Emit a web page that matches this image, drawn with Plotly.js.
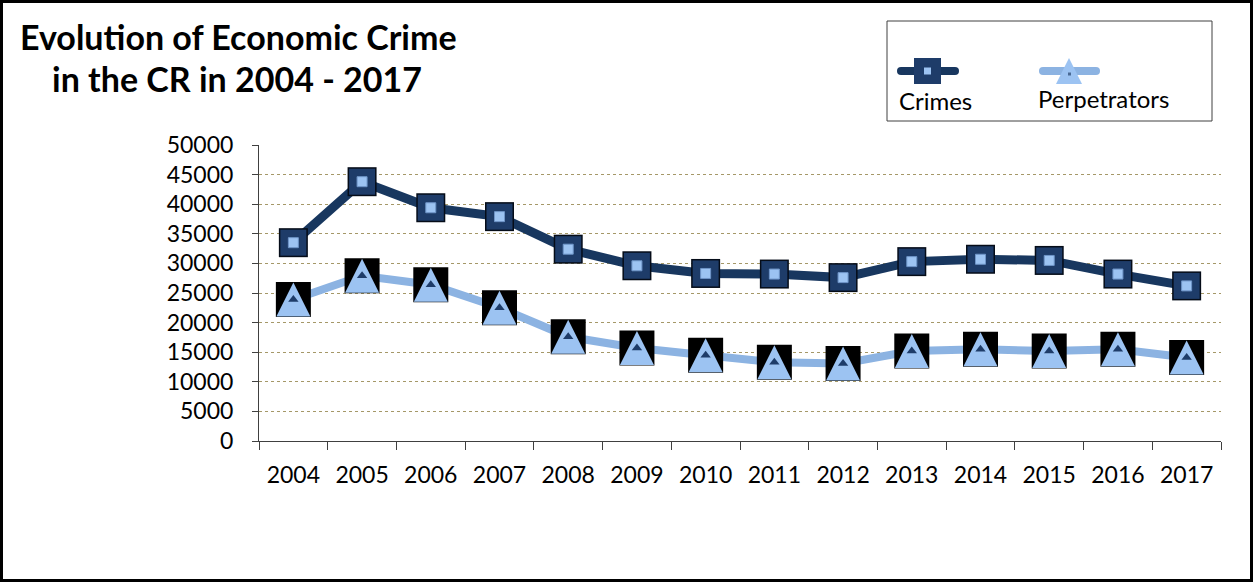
<!DOCTYPE html>
<html>
<head>
<meta charset="utf-8">
<script src="https://cdn.plot.ly/plotly-3.0.1.min.js"></script>
<style>
html, body { margin: 0; padding: 0; background: #ffffff; }
#chart { width: 1253px; height: 583px; }
</style>
</head>
<body>
<div id="chart"></div>
<script>
// ---- data ----
const years = ['2004','2005','2006','2007','2008','2009','2010','2011','2012','2013','2014','2015','2016','2017'];
const crimes = [33500, 43800, 39400, 37900, 32400, 29600, 28300, 28200, 27600, 30300, 30700, 30500, 28200, 26200];
const perpetrators = [23900, 27900, 26400, 22500, 17600, 15700, 14500, 13300, 13100, 15200, 15500, 15200, 15500, 14100];
const yTicks = [0, 5000, 10000, 15000, 20000, 25000, 30000, 35000, 40000, 45000, 50000];
const gridTicks = [5000, 10000, 15000, 20000, 25000, 30000, 35000, 40000, 45000];
const seriesNames = ['Crimes', 'Perpetrators'];
const titleLines = ['Evolution of Economic Crime', 'in the CR in 2004 - 2017'];

// ---- geometry / style ----
const W = 1253, H = 583;
const M = {l: 259, r: 32, t: 145, b: 142};
const PW = W - M.l - M.r, PH = H - M.t - M.b;
const px = x => (x - M.l) / PW;
const py = y => (H - M.b - y) / PH;

const NAVY = '#1e3c69', NAVY_LINE = '#18375f', LIGHT = '#9cc3f2', LIGHT_LINE = '#8cb3e2';
const FONT = 'Lato, "Open Sans", sans-serif';

const common = {x: years, type: 'scatter', hoverinfo: 'skip', showlegend: false, cliponaxis: false};

const traces = [
  // invisible trace so that the grid axis is drawn
  {x: [years[0]], y: [gridTicks[0]], yaxis: 'y2', type: 'scatter', mode: 'markers', marker: {opacity: 0}, hoverinfo: 'skip', showlegend: false},
  // perpetrators
  Object.assign({}, common, {y: perpetrators, mode: 'lines', line: {color: LIGHT_LINE, width: 8}}),
  Object.assign({}, common, {y: perpetrators, mode: 'markers', marker: {symbol: 'square', size: 35, color: '#000000'}}),
  Object.assign({}, common, {y: perpetrators, mode: 'markers', marker: {symbol: 'arrow-down', angle: 180, standoff: 17, size: 34, color: LIGHT, line: {width: 0}}}),
  Object.assign({}, common, {y: perpetrators, mode: 'markers', marker: {symbol: 'triangle-up', size: 9, color: NAVY, line: {width: 0}}}),
  // crimes
  Object.assign({}, common, {y: crimes, mode: 'lines', line: {color: NAVY_LINE, width: 9}}),
  Object.assign({}, common, {y: crimes, mode: 'markers', marker: {symbol: 'square', size: 29, color: '#050c18'}}),
  Object.assign({}, common, {y: crimes, mode: 'markers', marker: {symbol: 'square', size: 26, color: NAVY, line: {width: 0}}}),
  Object.assign({}, common, {y: crimes, mode: 'markers', marker: {symbol: 'square', size: 10, color: LIGHT, line: {color: '#6f95c8', width: 1}}})
];

const shapes = [
  // outer frame
  {type: 'rect', xref: 'paper', yref: 'paper', x0: px(1.5), x1: px(1251.5), y0: py(1.5), y1: py(580.5), line: {color: '#000', width: 3}},
  // legend box
  {type: 'rect', xref: 'paper', yref: 'paper', x0: px(887), x1: px(1212), y0: py(21), y1: py(121), line: {color: '#404040', width: 1}, fillcolor: 'rgba(0,0,0,0)'},
  // crimes legend symbol
  {type: 'line', xref: 'paper', yref: 'paper', x0: px(901), x1: px(955), y0: py(71), y1: py(71), line: {color: NAVY_LINE, width: 8}},
  {type: 'circle', xref: 'paper', yref: 'paper', x0: px(897), x1: px(905), y0: py(67), y1: py(75), fillcolor: NAVY_LINE, line: {width: 0}},
  {type: 'circle', xref: 'paper', yref: 'paper', x0: px(951), x1: px(959), y0: py(67), y1: py(75), fillcolor: NAVY_LINE, line: {width: 0}},
  {type: 'rect', xref: 'paper', yref: 'paper', x0: px(914), x1: px(941), y0: py(58), y1: py(84), fillcolor: NAVY, line: {width: 0}},
  {type: 'rect', xref: 'paper', yref: 'paper', x0: px(924), x1: px(931), y0: py(67.5), y1: py(74.5), fillcolor: LIGHT, line: {width: 0}},
  // perpetrators legend symbol
  {type: 'line', xref: 'paper', yref: 'paper', x0: px(1043), x1: px(1096), y0: py(71), y1: py(71), line: {color: LIGHT_LINE, width: 8}},
  {type: 'circle', xref: 'paper', yref: 'paper', x0: px(1039), x1: px(1047), y0: py(67), y1: py(75), fillcolor: LIGHT_LINE, line: {width: 0}},
  {type: 'circle', xref: 'paper', yref: 'paper', x0: px(1092), x1: px(1100), y0: py(67), y1: py(75), fillcolor: LIGHT_LINE, line: {width: 0}},
  {type: 'path', xref: 'paper', yref: 'paper',
   path: 'M ' + px(1069) + ' ' + py(58) + ' L ' + px(1082) + ' ' + py(84) + ' L ' + px(1056) + ' ' + py(84) + ' Z',
   fillcolor: LIGHT, line: {width: 0}},
  {type: 'rect', xref: 'paper', yref: 'paper', x0: px(1068), x1: px(1071), y0: py(72.5), y1: py(75.5), fillcolor: '#4a6a95', line: {width: 0}}
];

const annotations = [
  {text: titleLines[0], xref: 'paper', yref: 'paper', x: px(238), y: py(36), xanchor: 'center', yanchor: 'middle', showarrow: false,
   font: {family: FONT, size: 34, color: '#000', weight: 'bold'}},
  {text: titleLines[1], xref: 'paper', yref: 'paper', x: px(237), y: py(78), xanchor: 'center', yanchor: 'middle', showarrow: false,
   font: {family: FONT, size: 34, color: '#000', weight: 'bold'}},
  {text: seriesNames[0], xref: 'paper', yref: 'paper', x: px(897), y: py(101), xanchor: 'left', yanchor: 'middle', showarrow: false,
   font: {family: FONT, size: 24, color: '#000'}},
  {text: seriesNames[1], xref: 'paper', yref: 'paper', x: px(1036), y: py(98), xanchor: 'left', yanchor: 'middle', showarrow: false,
   font: {family: FONT, size: 24, color: '#000'}}
];

const layout = {
  width: W, height: H,
  margin: M,
  paper_bgcolor: '#ffffff', plot_bgcolor: 'rgba(0,0,0,0)',
  showlegend: false,
  font: {family: FONT, size: 23, color: '#000'},
  xaxis: {
    type: 'category', categoryarray: years, range: [-0.5, years.length - 0.5], autorange: false,
    tickson: 'boundaries', ticks: 'outside', ticklen: 8, tickcolor: '#404040', tickwidth: 1,
    showline: true, linecolor: '#404040', linewidth: 1, showgrid: false, zeroline: false,
    ticklabelstandoff: 13, tickfont: {family: FONT, size: 23, color: '#000'}, fixedrange: true
  },
  yaxis: {
    range: [0, 50000], autorange: false, tickvals: yTicks, ticktext: yTicks.map(String), ticks: 'outside', ticklen: 6, tickcolor: '#404040',
    showline: true, linecolor: '#404040', linewidth: 1, showgrid: false, zeroline: false,
    ticklabelstandoff: 14, tickfont: {family: FONT, size: 23, color: '#000'}, fixedrange: true
  },
  yaxis2: {
    overlaying: 'y', range: [0, 50000], autorange: false, tickvals: gridTicks, showticklabels: false, ticks: '',
    showgrid: true, gridcolor: '#a59868', griddash: 'dot', gridwidth: 1, zeroline: false, showline: false, fixedrange: true
  },
  shapes: shapes,
  annotations: annotations
};

Plotly.newPlot('chart', traces, layout, {displayModeBar: false, staticPlot: true});
</script>
</body>
</html>
